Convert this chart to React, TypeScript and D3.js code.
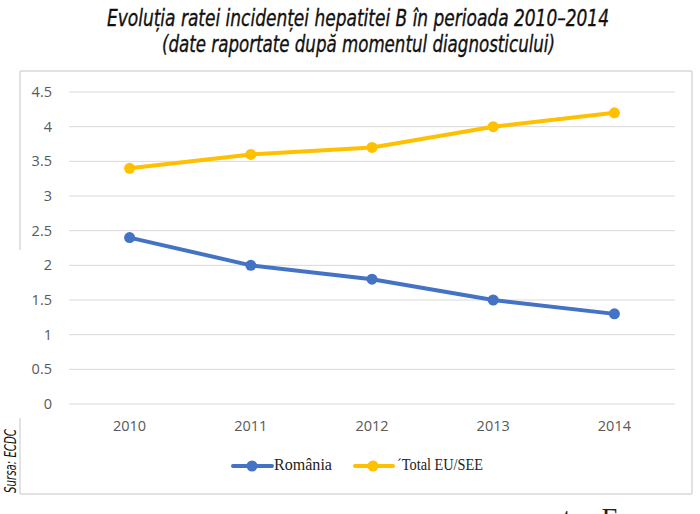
import { line, scaleLinear, scalePoint } from "d3";

// Incidence rate of hepatitis B, 2010–2014 (source: ECDC)
const years = ["2010", "2011", "2012", "2013", "2014"];
const romania = [2.4, 2.0, 1.8, 1.5, 1.3];
const euTotal = [3.4, 3.6, 3.7, 4.0, 4.2];
const yTicks = [0, 0.5, 1, 1.5, 2, 2.5, 3, 3.5, 4, 4.5];

const BLUE = "#4472C4";
const YELLOW = "#FFC000";
const GRID = "#d9d9d9";
const LABEL = "#595959";
const NARROW = "'Liberation Sans Narrow', 'DejaVu Sans Condensed', sans-serif";

export default function App() {
    const width = 700;
    const height = 514;
    const plot = { left: 69, right: 675, top: 92, bottom: 404 };

    const x = scalePoint<string>()
        .domain(years)
        .range([plot.left, plot.right])
        .padding(0.5);
    const y = scaleLinear().domain([0, 4.5]).range([plot.bottom, plot.top]);

    const path = line<number>()
        .x((_, i) => x(years[i]) ?? 0)
        .y((d) => y(d));

    const series = [
        { name: "România", values: romania, color: BLUE },
        { name: "Total EU/SEE", values: euTotal, color: YELLOW },
    ];

    return (
        <>
            <style>{`body{margin:0}`}</style>
            <svg width={width} height={height} style={{ display: "block", background: "#fff" }}>
                {/* Title */}
                <g
                    fontFamily={NARROW}
                    fontStyle="italic"
                    fontSize={23}
                    fill="#111"
                    stroke="#111"
                    strokeWidth={0.35}
                    textAnchor="middle"
                >
                    <text x={358} y={26} textLength={502} lengthAdjust="spacingAndGlyphs">
                        Evoluția ratei incidenței hepatitei B în perioada 2010–2014
                    </text>
                    <text x={358.5} y={52} textLength={393} lengthAdjust="spacingAndGlyphs">
                        (date raportate după momentul diagnosticului)
                    </text>
                </g>

                {/* Chart box */}
                <g stroke={GRID} strokeWidth={1.5} fill="none">
                    <line x1={20} x2={692} y1={71} y2={71} />
                    <line x1={692} x2={692} y1={71} y2={494} />
                    <line x1={20} x2={692} y1={494} y2={494} />
                    <line x1={20} x2={20} y1={71} y2={250} />
                    <line x1={20} x2={20} y1={418} y2={494} />
                </g>

                {/* Grid + y labels */}
                {yTicks.map((t) => (
                    <g key={t}>
                        <line
                            x1={plot.left}
                            x2={plot.right}
                            y1={y(t)}
                            y2={y(t)}
                            stroke={GRID}
                            strokeWidth={1}
                        />
                        <text
                            x={52}
                            y={y(t) + 5}
                            textAnchor="end"
                            fontSize={14.5}
                            fill={LABEL}
                            fontFamily="'Open Sans', 'Liberation Sans', sans-serif"
                        >
                            {t}
                        </text>
                    </g>
                ))}

                {/* x labels */}
                {years.map((yr) => (
                    <text
                        key={yr}
                        x={x(yr)}
                        y={431}
                        textAnchor="middle"
                        fontSize={14.5}
                        fill={LABEL}
                        fontFamily="'Open Sans', 'Liberation Sans', sans-serif"
                    >
                        {yr}
                    </text>
                ))}

                {/* Lines */}
                {series.map((s) => (
                    <g key={s.name}>
                        <path
                            d={path(s.values) ?? ""}
                            fill="none"
                            stroke={s.color}
                            strokeWidth={4}
                            strokeLinejoin="round"
                        />
                        {s.values.map((v, i) => (
                            <circle key={i} cx={x(years[i])} cy={y(v)} r={5.5} fill={s.color} />
                        ))}
                    </g>
                ))}

                {/* Legend */}
                <g fontFamily="'Liberation Serif', serif" fontSize={17} fill="#222">
                    <line x1={233} x2={272} y1={466} y2={466} stroke={BLUE} strokeWidth={4} strokeLinecap="round" />
                    <circle cx={252} cy={466} r={5.5} fill={BLUE} />
                    <text x={274} y={470} textLength={58} lengthAdjust="spacingAndGlyphs">
                        România
                    </text>
                    <line x1={355} x2={393} y1={466} y2={466} stroke={YELLOW} strokeWidth={4} strokeLinecap="round" />
                    <circle cx={373} cy={466} r={5.5} fill={YELLOW} />
                    <text x={397} y={470} textLength={86} lengthAdjust="spacingAndGlyphs">
                        ˊTotal EU/SEE
                    </text>
                </g>

                {/* Source */}
                <text
                    transform="translate(16,493) rotate(-90)"
                    fontFamily={NARROW}
                    fontStyle="italic"
                    fontSize={15}
                    fill="#111"
                    textLength={64}
                    lengthAdjust="spacingAndGlyphs"
                >
                    Sursa: ECDC
                </text>

                {/* Cut-off text at the bottom edge */}
                <text
                    x={563}
                    y={527}
                    fontFamily="'Liberation Serif', serif"
                    fontSize={27}
                    fill="#222"
                    textLength={120}
                    lengthAdjust="spacingAndGlyphs"
                >
                    tru Europa
                </text>
            </svg>
        </>
    );
}
